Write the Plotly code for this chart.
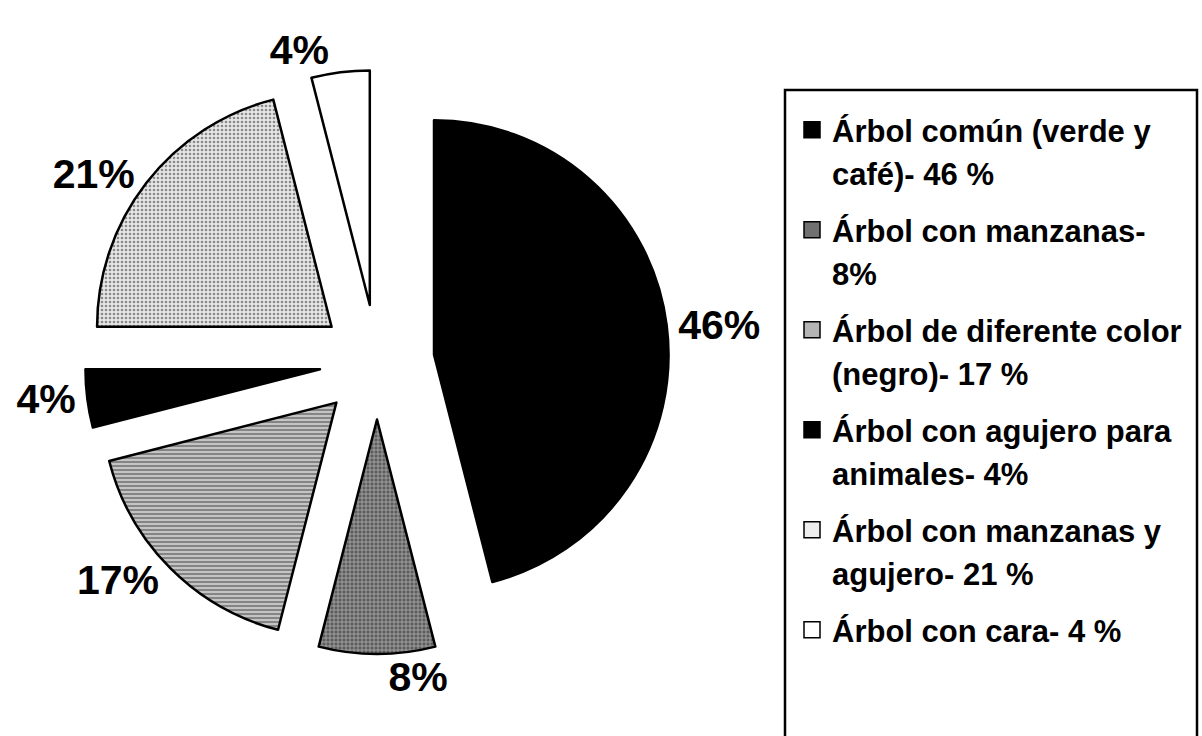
import plotly.graph_objects as go

# ---- data ----
categories = [
    "Árbol común (verde y<br>café)- 46 %",
    "Árbol con manzanas-<br>8%",
    "Árbol de diferente color<br>(negro)- 17 %",
    "Árbol con agujero para<br>animales- 4%",
    "Árbol con manzanas y<br>agujero- 21 %",
    "Árbol con cara- 4 %",
]
values = [46, 8, 17, 4, 21, 4]
slice_labels = ["46%", "8%", "17%", "4%", "21%", "4%"]

# ---- styles ----
bg_colors = ["#000000", "#5c5c5c", "#c4c4c4", "#000000", "#e6e6e6", "#ffffff"]
fg_colors = ["#000000", "#b0b0b0", "#6a6a6a", "#000000", "#8a8a8a", "#ffffff"]
shapes = ["", "+", "-", "", ".", ""]
legend_square_colors = ["#000000", "#707070", "#b4b4b4", "#000000", "#eeeeee", "#ffffff"]

FONT = "Liberation Sans, Arial, sans-serif"
LEG_FS = 31
LINE_H = 1.3 * LEG_FS + 3

fig = go.Figure()
fig.add_trace(
    go.Pie(
        labels=categories,
        values=values,
        text=slice_labels,
        textinfo="text",
        textposition="outside",
        outsidetextfont=dict(family=FONT, size=41, color="black", weight="bold"),
        sort=False,
        direction="clockwise",
        rotation=0,
        pull=[0.245] * len(values),
        marker=dict(
            colors=bg_colors,
            line=dict(color="black", width=2.5),
            pattern=dict(shape=shapes, fgcolor=fg_colors, bgcolor=bg_colors,
                         size=4, solidity=0.35, fillmode="replace"),
        ),
        domain=dict(x=[85 / 1202, 669 / 1202], y=[1 - 654 / 736, 1 - 70 / 736]),
        hoverinfo="skip",
        showlegend=False,
    )
)

# legend entries (one legend row per text line, so the line spacing matches)
for i, (cat, col) in enumerate(zip(categories, legend_square_colors)):
    for j, line in enumerate(cat.split("<br>")):
        first = j == 0
        fig.add_trace(
            go.Scatter(
                x=[None], y=[None], mode="markers", name=line,
                legendgroup=f"g{i}",
                marker=dict(
                    symbol="square", size=16,
                    color=col if first else "rgba(0,0,0,0)",
                    line=dict(color="black" if first else "rgba(0,0,0,0)",
                              width=1.5 if first else 0),
                ),
                hoverinfo="skip",
            )
        )

fig.update_layout(
    width=1202,
    height=736,
    margin=dict(l=0, r=0, t=0, b=0, autoexpand=False),
    paper_bgcolor="white",
    plot_bgcolor="white",
    xaxis=dict(visible=False),
    yaxis=dict(visible=False),
    showlegend=True,
    legend=dict(
        x=792 / 1202, xanchor="left",
        y=1 - 103 / 736, yanchor="top",
        valign="middle",
        maxheight=2000,
        tracegroupgap=100 - 2 * LINE_H,
        font=dict(family=FONT, size=LEG_FS, color="black", weight="bold"),
        bgcolor="rgba(0,0,0,0)",
        borderwidth=0,
    ),
    shapes=[
        dict(type="rect", xref="paper", yref="paper",
             x0=785 / 1202, x1=1197 / 1202, y0=-0.02, y1=1 - 90 / 736,
             line=dict(color="black", width=2.5), fillcolor="rgba(0,0,0,0)")
    ],
)

fig.write_html("out.html")
